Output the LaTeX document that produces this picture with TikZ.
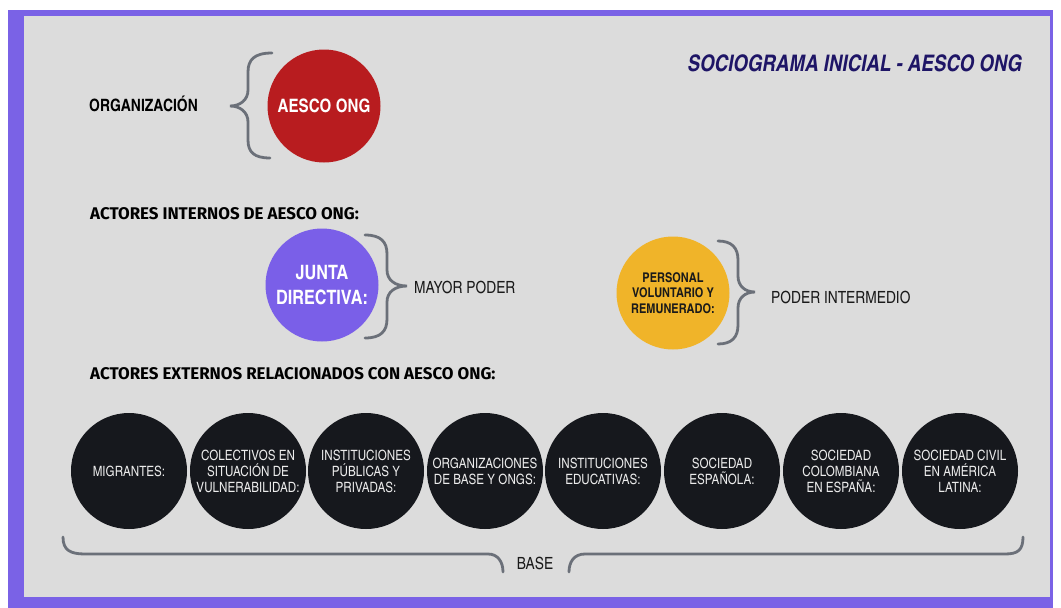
\documentclass[tikz,border=0pt]{standalone}
\usepackage{fontspec}
\newfontfamily\cond{texgyreheroscn}[Extension=.otf, UprightFont=*-regular, BoldFont=*-bold, ItalicFont=*-italic, BoldItalicFont=*-bolditalic]
\newfontfamily\headf{Fira Sans}
\definecolor{framepurple}{HTML}{7A62E6}
\definecolor{bggray}{HTML}{DCDCDC}
\definecolor{aescored}{HTML}{B81C1F}
\definecolor{juntapurple}{HTML}{7A5FE8}
\definecolor{persyellow}{HTML}{F0B429}
\definecolor{extblack}{HTML}{16181D}
\definecolor{bracegray}{HTML}{6B7079}
\definecolor{titlenavy}{HTML}{1E1566}
\definecolor{txtdark}{HTML}{1A1A1A}
\begin{document}
\begin{tikzpicture}[x=1pt,y=-1pt,
  circ/.style={circle, inner sep=0pt, align=center},
  bigcirc/.style={circ, minimum size=113pt},
  extcirc/.style={circ, minimum size=116pt, fill=extblack, text=white!92!black,
    font={\cond\fontsize{14.2}{16}\selectfont}},
  bracestyle/.style={draw=bracegray, line width=2.8pt, line cap=round},
  lbl/.style={inner sep=0pt, anchor=base west, text=txtdark, font={\cond\fontsize{16.8}{20}\selectfont}},
  headlbl/.style={inner sep=0pt, anchor=base west, text=black, font={\headf\bfseries\fontsize{16.9}{20}\selectfont}}
]
\useasboundingbox (0,0) rectangle (1061,608);
\fill[white] (0,0) rectangle (1061,608);
\fill[framepurple] (8,10) rectangle (1053,608);
\fill[bggray] (24,16) rectangle (1050,597);

% title
\node[inner sep=0pt, anchor=base east, text=titlenavy, font={\cond\bfseries\itshape\fontsize{22.8}{26}\selectfont}] (title) at (1022,71) {SOCIOGRAMA INICIAL - AESCO ONG};

% organizacion
\node[lbl, font={\cond\bfseries\fontsize{17}{20}\selectfont}, text=black] (org) at (89,111) {ORGANIZACIÓN};
\node[bigcirc, fill=aescored, text=white, font={\cond\bfseries\fontsize{18.5}{20}\selectfont}] (aesco) at (324,106) {AESCO ONG};
\draw[bracestyle] (272,53) .. controls (254,53) and (248,60) .. (248,72) -- (248,90) .. controls (248,100) and (240,106) .. (230,106) .. controls (240,106) and (248,112) .. (248,122) -- (248,140) .. controls (248,152) and (254,158) .. (270,158);

% internos
\node[headlbl] (hint) at (90,219) {ACTORES INTERNOS DE AESCO ONG:};
\node[bigcirc, fill=juntapurple, text=white, font={\cond\bfseries\fontsize{19.8}{25}\selectfont}] (junta) at (322,285) {JUNTA\\DIRECTIVA:};
\draw[bracestyle] (365,235) .. controls (381,235) and (387,242) .. (387,254) -- (387,270) .. controls (387,280) and (395,286) .. (407,286) .. controls (395,286) and (387,292) .. (387,302) -- (387,319) .. controls (387,331) and (381,338) .. (365,338);
\node[lbl] (mayor) at (414,293) {MAYOR PODER};

\node[bigcirc, fill=persyellow, text=txtdark, font={\cond\bfseries\fontsize{13.4}{15.5}\selectfont}] (personal) at (673,293) {PERSONAL\\VOLUNTARIO Y\\REMUNERADO:};
\draw[bracestyle] (718,241) .. controls (732,241) and (738,248) .. (738,260) -- (738,276) .. controls (738,286) and (745,292) .. (755,292) .. controls (745,292) and (738,298) .. (738,308) -- (738,325) .. controls (738,337) and (732,344) .. (718,344);
\node[lbl] (intermedio) at (771,303) {PODER INTERMEDIO};

% externos
\node[headlbl] (hext) at (90,379) {ACTORES EXTERNOS RELACIONADOS CON AESCO ONG:};
\node[extcirc] (e1) at (129,471) {MIGRANTES:};
\node[extcirc] (e2) at (248,471) {COLECTIVOS EN\\SITUACIÓN DE\\VULNERABILIDAD:};
\node[extcirc] (e3) at (366,471) {INSTITUCIONES\\PÚBLICAS Y\\PRIVADAS:};
\node[extcirc] (e4) at (485,471) {ORGANIZACIONES\\DE BASE Y ONGS:};
\node[extcirc] (e5) at (603,471) {INSTITUCIONES\\EDUCATIVAS:};
\node[extcirc] (e6) at (722,471) {SOCIEDAD\\ESPAÑOLA:};
\node[extcirc] (e7) at (841,471) {SOCIEDAD\\COLOMBIANA\\EN ESPAÑA:};
\node[extcirc] (e8) at (960,471) {SOCIEDAD CIVIL\\EN AMÉRICA\\LATINA:};

\draw[bracestyle] (63,537) .. controls (63,550) and (70,554) .. (85,554) -- (488,554) .. controls (498,554) and (503,562) .. (503,572);
\draw[bracestyle] (569,572) .. controls (569,562) and (574,554) .. (585,554) -- (1005,554) .. controls (1018,554) and (1023,550) .. (1023,537);
\node[lbl, anchor=base] (base) at (535,569) {BASE};
\end{tikzpicture}
\end{document}
